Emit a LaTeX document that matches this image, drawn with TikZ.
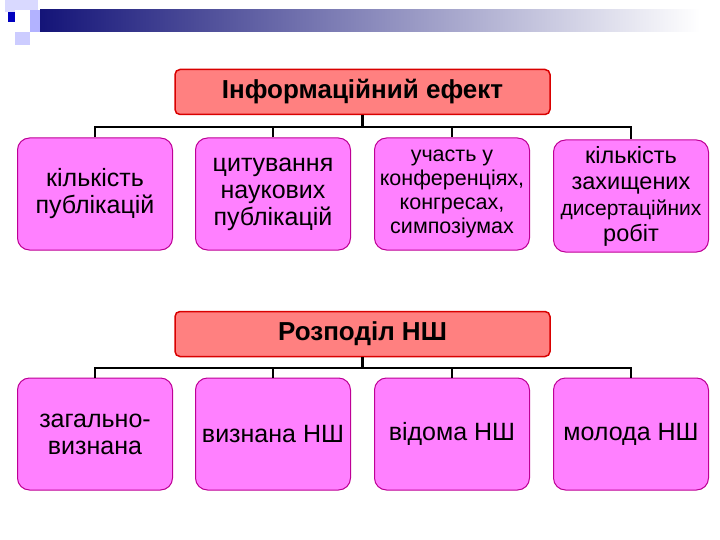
\documentclass[tikz,border=0pt]{standalone}
\usepackage{fontspec}
\setmainfont{Liberation Sans}
\begin{document}
\begin{tikzpicture}[x=1pt,y=-1pt,
 head/.style={draw=red!85!black,line width=1.5pt,fill={rgb,255:red,255;green,128;blue,128},rounded corners=5pt,minimum width=375pt,minimum height=45pt,font=\fontsize{26}{28}\selectfont\bfseries},
 leaf/.style={draw={rgb,255:red,190;green,0;blue,150},line width=1pt,fill={rgb,255:red,255;green,128;blue,255},rounded corners=12pt,minimum width=155pt,minimum height=112pt,align=center,inner sep=1pt},
 big/.style={font=\fontsize{25}{27}\selectfont},
 small/.style={font=\fontsize{21.5}{24}\selectfont},
 bus/.style={line width=2.5pt}]
\useasboundingbox (0,0) rectangle (720,540);
\shade[left color={rgb,255:red,20;green,20;blue,120},right color=white] (40,10) rectangle (700,32);
\fill[blue!15] (5,0) rectangle (15,12);
\fill[blue!15] (15,0) rectangle (38,10);
\fill[blue!20] (15,32) rectangle (30,45);
\fill[blue!75!black] (8,12) rectangle (15,22);
\fill[blue!30] (30,10) rectangle (40,32);
% top
\node[head] (h1) at (362.5,92) {Інформаційний ефект};
\node[leaf,big] (a1) at (95,194) {кількість\\публікацій};
\node[leaf,big] (a2) at (273,194) {цитування\\наукових\\публікацій};
\node[leaf,small] (a3) at (452,194) {участь у\\конференціях,\\конгресах,\\симпозіумах};
\node[leaf,font=\fontsize{23.5}{26}\selectfont] (a4) at (631,196) {кількість\\захищених\\{\fontsize{21}{26}\selectfont дисертаційних}\\робіт};
\coordinate (b1) at (362.5,127);
\draw[bus] (h1.south) -- (b1);
\draw[bus] (a1.north) |- (a4.north |- b1) -- (a4.north);
\draw[bus] (a2.north) -- (a2.north |- b1);
\draw[bus] (a3.north) -- (a3.north |- b1);
% bottom
\node[head] (h2) at (362.5,334) {Розподіл НШ};
\node[leaf,big] (c1) at (95,434) {загально-\\визнана};
\node[leaf,big] (c2) at (273,434) {визнана НШ};
\node[leaf,big] (c3) at (452,434) {відома НШ};
\node[leaf,big] (c4) at (631,434) {молода НШ};
\coordinate (b2) at (362.5,368);
\draw[bus] (h2.south) -- (b2);
\draw[bus] (c1.north) |- (c4.north |- b2) -- (c4.north);
\draw[bus] (c2.north) -- (c2.north |- b2);
\draw[bus] (c3.north) -- (c3.north |- b2);
\end{tikzpicture}
\end{document}
